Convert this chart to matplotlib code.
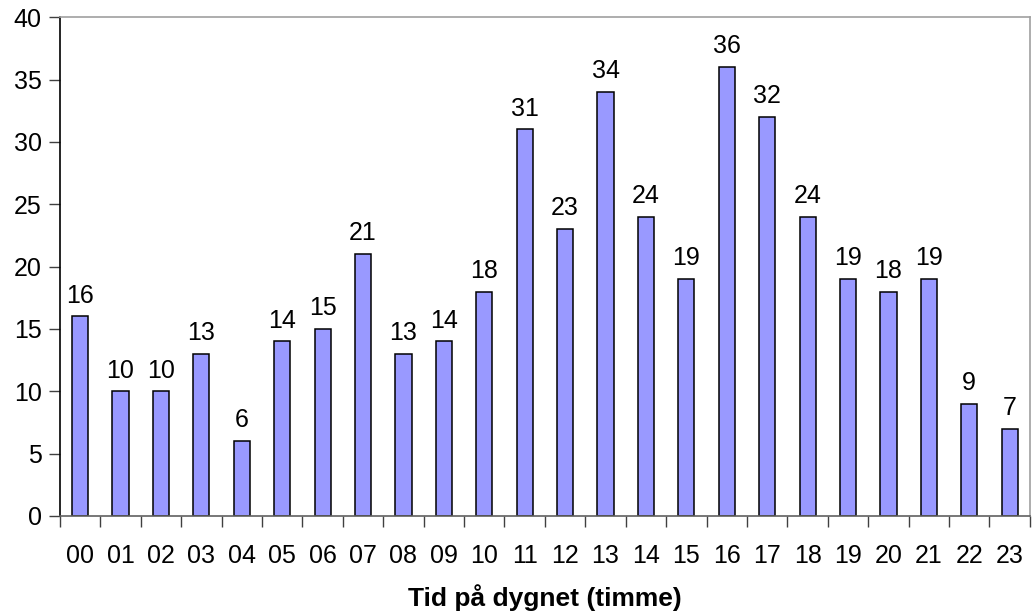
import numpy as np
import matplotlib.pyplot as plt

hours = ['00', '01', '02', '03', '04', '05', '06', '07', '08', '09', '10', '11',
         '12', '13', '14', '15', '16', '17', '18', '19', '20', '21', '22', '23']
counts = [16, 10, 10, 13, 6, 14, 15, 21, 13, 14, 18, 31,
          23, 34, 24, 19, 36, 32, 24, 19, 18, 19, 9, 7]

plt.rcParams['font.family'] = ['Liberation Sans', 'DejaVu Sans']

fig = plt.figure(figsize=(10.33, 6.15), dpi=100)
ax = fig.add_axes([0.058, 0.161, 0.939, 0.811])

x = np.arange(len(hours))
ax.bar(x, counts, width=0.4, color='#9999ff', edgecolor='black', linewidth=1.1)

for xi, v in zip(x, counts):
    ax.text(xi, v + 0.7, str(v), ha='center', va='bottom', fontsize=18)

ax.set_xlim(-0.5, len(hours) - 0.5)
ax.set_ylim(0, 40)
ax.set_yticks(range(0, 41, 5))
ax.set_xticks(x)
ax.set_xticklabels(hours)
ax.set_xticks(np.arange(-0.5, len(hours), 1), minor=True)
ax.tick_params(axis='x', which='major', length=0, pad=20, labelsize=18)
ax.tick_params(axis='x', which='minor', length=8, width=1, color='#404040', direction='out')
ax.tick_params(axis='y', length=8, width=1, color='#404040', labelsize=18, pad=5)

ax.spines['top'].set_color('#a0a0a0')
ax.spines['right'].set_color('#a0a0a0')
ax.spines['bottom'].set_color('#606060')
ax.spines['left'].set_color('black')
for s in ax.spines.values():
    s.set_linewidth(1.2)

ax.set_xlabel('Tid på dygnet (timme)', fontsize=19, fontweight='bold', labelpad=12)

fig.savefig('out.png', dpi=100)
